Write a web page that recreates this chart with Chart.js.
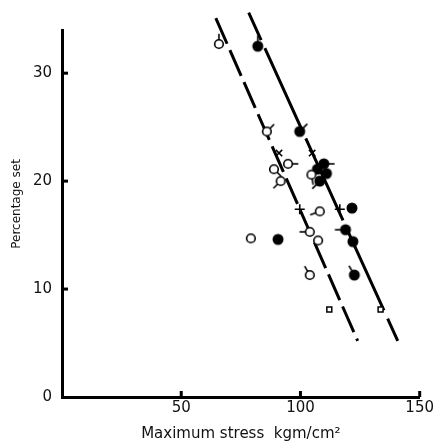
<!DOCTYPE html>
<html>
<head>
<meta charset="utf-8">
<script src="https://cdn.jsdelivr.net/npm/chart.js@4/dist/chart.umd.min.js"></script>
<style>
  body { margin: 0; background: #fff; }
</style>
</head>
<body>
<canvas id="setChart" width="436" height="443"></canvas>
<script>
// tick labels
const xTicks = [0, 50, 100, 150];
const yTicks = [0, 10, 20, 30];

// open circles (with direction of the little tag, degrees, null = none)
const openX = [65.8, 85.9, 94.8, 88.9, 91.7, 104.6, 108.1, 103.9, 107.4, 79.2, 103.9];
const openY = [32.7, 24.6, 21.6, 21.1, 20.0, 20.6, 17.2, 15.3, 14.5, 14.7, 11.3];
const openTags = [-90, -45, 0, 45, 135, 80, 160, 180, null, null, -120];

// filled circles
const filledX = [82.1, 99.7, 109.8, 107.1, 110.9, 108.1, 121.6, 118.9, 122.0, 90.6, 122.6];
const filledY = [32.5, 24.6, 21.6, 21.1, 20.7, 20.0, 17.5, 15.5, 14.4, 14.6, 11.3];
const filledTags = [-90, -45, 0, null, null, 135, null, 180, null, null, -120];

// crosses, plus signs, squares
const crossX = [91.0, 104.9];
const crossY = [22.6, 22.6];
const plusX = [99.7, 116.5];
const plusY = [17.4, 17.4];
const squareX = [112.1, 133.6];
const squareY = [8.1, 8.1];

// the two fitted lines (end points)
const leftLineX = [64.5, 124.0];
const leftLineY = [35.1, 5.2];
const rightLineX = [78.3, 140.8];
const rightLineY = [35.6, 5.2];

const pts = (xs, ys) => xs.map((x, i) => ({ x: x, y: ys[i] }));

// draw a circle marker with an optional little tag sticking out
function marker(filled, angle) {
  const c = document.createElement('canvas');
  c.width = 26; c.height = 26;
  const g = c.getContext('2d');
  const r = filled ? 4.7 : 4.3;
  g.lineWidth = 1.6;
  g.strokeStyle = '#000';
  g.fillStyle = filled ? '#000' : '#fff';
  g.beginPath();
  g.arc(13, 13, r, 0, Math.PI * 2);
  g.fill();
  g.stroke();
  if (angle !== null) {
    const a = angle * Math.PI / 180;
    g.beginPath();
    g.moveTo(13 + r * Math.cos(a), 13 + r * Math.sin(a));
    g.lineTo(13 + (r + 6) * Math.cos(a), 13 + (r + 6) * Math.sin(a));
    g.stroke();
  }
  return c;
}

// short tick marks pointing into the plot
const innerTicks = {
  id: 'innerTicks',
  afterDraw(chart) {
    const ctx = chart.ctx;
    const xs = chart.scales.x, ys = chart.scales.y;
    ctx.save();
    ctx.strokeStyle = '#000';
    ctx.lineWidth = 3;
    xTicks.forEach(v => {
      if (v === 0) return;
      const px = xs.getPixelForValue(v);
      ctx.beginPath();
      ctx.moveTo(px, ys.bottom);
      ctx.lineTo(px, ys.bottom - 6);
      ctx.stroke();
    });
    yTicks.forEach(v => {
      if (v === 0) return;
      const py = ys.getPixelForValue(v);
      ctx.beginPath();
      ctx.moveTo(xs.left, py);
      ctx.lineTo(xs.left + 6, py);
      ctx.stroke();
    });
    ctx.restore();
  }
};

const font = 'DejaVu Sans';

new Chart(document.getElementById('setChart'), {
  type: 'scatter',
  data: {
    datasets: [
      {
        data: pts(openX, openY),
        pointStyle: openTags.map(a => marker(false, a)),
        order: 1
      },
      {
        data: pts(filledX, filledY),
        pointStyle: filledTags.map(a => marker(true, a)),
        order: 1
      },
      {
        data: pts(crossX, crossY),
        pointStyle: 'crossRot',
        pointRadius: 4.5,
        borderColor: '#000',
        borderWidth: 1.6,
        order: 1
      },
      {
        data: pts(plusX, plusY),
        pointStyle: 'cross',
        pointRadius: 5,
        borderColor: '#000',
        borderWidth: 1.6,
        order: 1
      },
      {
        data: pts(squareX, squareY),
        pointStyle: 'rect',
        pointRadius: 3.5,
        borderColor: '#000',
        backgroundColor: '#fff',
        borderWidth: 1.5,
        order: 1
      },
      {
        type: 'line',
        data: pts(leftLineX, leftLineY),
        borderColor: '#000',
        borderWidth: 3,
        borderDash: [28, 7],
        pointRadius: 0,
        clip: false,
        order: 5
      },
      {
        type: 'line',
        data: pts(rightLineX, rightLineY),
        borderColor: '#000',
        borderWidth: 3,
        borderDash: [90, 9],
        borderDashOffset: 60,
        pointRadius: 0,
        clip: false,
        order: 5
      }
    ]
  },
  options: {
    responsive: false,
    animation: false,
    layout: { padding: { top: 30, right: 16, left: 0, bottom: 0 } },
    plugins: {
      legend: { display: false },
      tooltip: { enabled: false }
    },
    scales: {
      x: {
        type: 'linear',
        min: 0,
        max: 150,
        afterBuildTicks: s => { s.ticks = xTicks.map(v => ({ value: v })); },
        afterFit: s => { s.height = 46; },
        grid: { display: false, drawTicks: false },
        border: { display: true, color: '#000', width: 3 },
        ticks: {
          color: '#111',
          padding: 2,
          font: { family: font, size: 15 },
          callback: v => (v === 0 ? '' : v)
        },
        title: {
          display: true,
          text: 'Maximum stress  kgm/cm²',
          color: '#111',
          font: { family: font, size: 15 },
          padding: { top: 2, bottom: 0 }
        }
      },
      y: {
        type: 'linear',
        min: 0,
        max: 34,
        afterBuildTicks: s => { s.ticks = yTicks.map(v => ({ value: v })); },
        afterFit: s => { s.width = 62; },
        grid: { display: false, drawTicks: false },
        border: { display: true, color: '#000', width: 3 },
        ticks: {
          color: '#111',
          padding: 10,
          font: { family: font, size: 15 }
        },
        title: {
          display: true,
          text: '     Percentage set',
          color: '#111',
          font: { family: font, size: 12 },
          padding: { top: 10, bottom: 0 }
        }
      }
    }
  },
  plugins: [innerTicks]
});
</script>
</body>
</html>
